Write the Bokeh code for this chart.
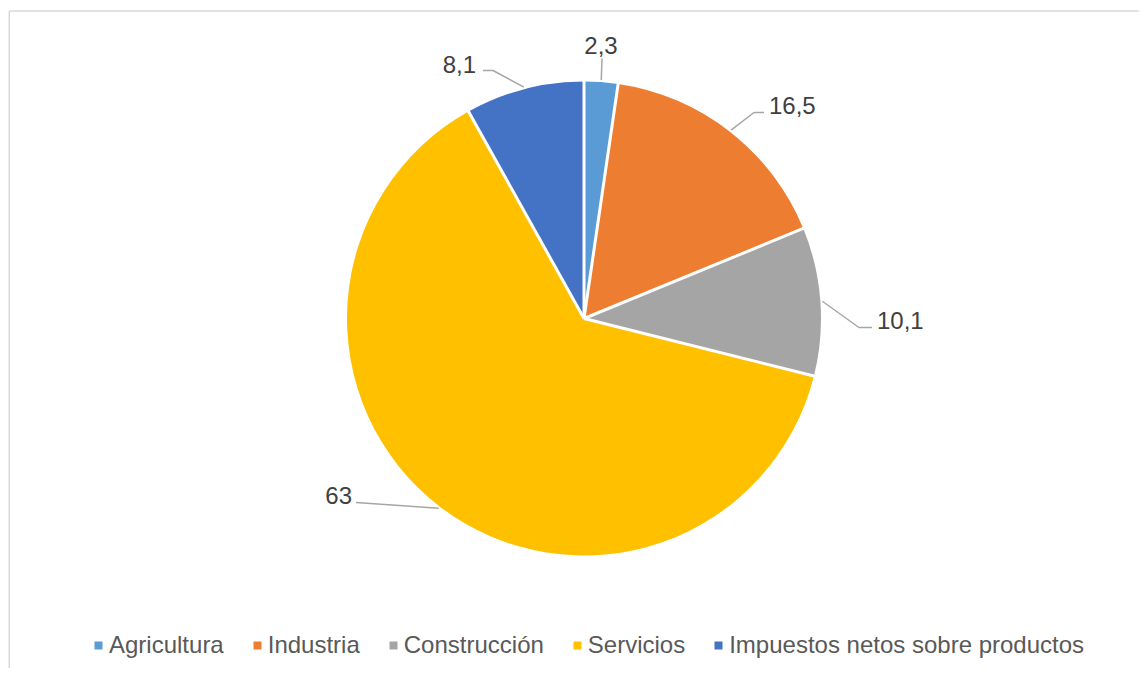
import math
from bokeh.plotting import figure
from bokeh.models import Range1d, Legend, LegendItem, ColumnDataSource
from bokeh.core.properties import value
from bokeh.embed import file_html
from bokeh.resources import INLINE

# ---- data ----
categories = ["Agricultura", "Industria", "Construcción", "Servicios",
              "Impuestos netos sobre productos"]
values = [2.3, 16.5, 10.1, 63, 8.1]
labels = ["2,3", "16,5", "10,1", "63", "8,1"]
colors = ["#5b9bd5", "#ed7d31", "#a5a5a5", "#ffc000", "#4472c4"]

# ---- layout (pixels) ----
W, H = 1139, 668
CX, CY, R = 583.5, 350.0, 237.0
# leader line points after the edge point, as offsets from centre (px, y up)
leader_offsets = [
    [(18, 260)],
    [(170, 206), (180, 206)],
    [(275, -9), (288, -9)],
    [(-228, -184)],
    [(-91, 248), (-101, 248)],
]
label_offsets = [(17, 273), (185, 213.5), (293, -2), (-232, -177), (-108, 254.5)]
label_align = ["center", "left", "left", "right", "right"]

p = figure(width=W, height=H, x_range=Range1d(0, W), y_range=Range1d(0, H),
           output_backend="svg", toolbar_location=None, min_border=0,
           x_axis_location=None, y_axis_location=None)
p.grid.visible = False
p.outline_line_color = None
p.background_fill_color = "white"
p.border_fill_color = "white"

# chart area border (top and left edges visible)
p.segment(x0=[8.75, 8.75], y0=[H - 10.5, H - 10.5], x1=[8.75, W + 10], y1=[-10, H - 10.5],
          line_color="#d9d9d9", line_width=1.5)

total = sum(values)
cum = [0.0]
for v in values:
    cum.append(cum[-1] + v)
starts = [math.pi / 2 - 2 * math.pi * c / total for c in cum[:-1]]
ends = [math.pi / 2 - 2 * math.pi * c / total for c in cum[1:]]
mids = [(s + e) / 2 for s, e in zip(starts, ends)]

src = ColumnDataSource(dict(x=[CX] * len(values), y=[CY] * len(values),
                            start=starts, end=ends, color=colors, cat=categories))
wr = p.wedge(x="x", y="y", radius=R, start_angle="start", end_angle="end",
             direction="clock", fill_color="color", line_color=None, source=src)

# white separators between slices
bounds = starts
p.segment(x0=[CX] * len(bounds), y0=[CY] * len(bounds),
          x1=[CX + (R + 2) * math.cos(a) for a in bounds],
          y1=[CY + (R + 2) * math.sin(a) for a in bounds],
          line_color="white", line_width=3)

# leader lines
xs, ys = [], []
for m, offs in zip(mids, leader_offsets):
    lx = [CX + (R + 2) * math.cos(m)] + [CX + dx for dx, dy in offs]
    ly = [CY + (R + 2) * math.sin(m)] + [CY + dy for dx, dy in offs]
    xs.append(lx)
    ys.append(ly)
p.multi_line(xs=xs, ys=ys, line_color="#a6a6a6", line_width=1.5)

lsrc = ColumnDataSource(dict(x=[CX + dx for dx, dy in label_offsets],
                             y=[CY + dy for dx, dy in label_offsets],
                             text=labels, align=label_align))
p.text(x="x", y="y", text="text", text_align="align", text_baseline="middle",
       text_font=value("Liberation Sans"), text_font_size="24px",
       text_color="#404040", source=lsrc)

legend = Legend(items=[LegendItem(label=c, renderers=[wr], index=i)
                       for i, c in enumerate(categories)],
                orientation="horizontal", location=(93, 8),
                glyph_width=10, glyph_height=10, label_standoff=6, spacing=28,
                padding=0, margin=0, label_height=30,
                label_text_font="Liberation Sans", label_text_font_size="24px",
                label_text_color="#595959", border_line_color=None,
                background_fill_alpha=0)
p.add_layout(legend, "center")

open("out.html", "w").write(file_html(p, INLINE))
